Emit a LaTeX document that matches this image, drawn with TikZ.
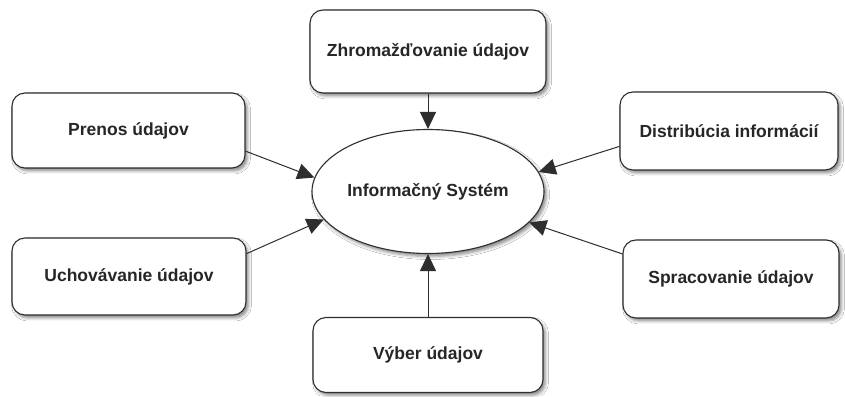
\documentclass[tikz,border=0pt]{standalone}
\usepackage{fontspec}
\setmainfont{Liberation Sans}
\usetikzlibrary{shapes.geometric,arrows.meta,shadows.blur}
\definecolor{edgegray}{HTML}{2E2E2E}
\tikzset{
  softshadow/.style={blur shadow={shadow xshift=2.5pt, shadow yshift=-3pt, shadow blur radius=3pt, shadow opacity=45}},
  labelfont/.style={font=\bfseries\fontsize{17.5}{20}\selectfont, text=black!85},
  infobox/.style={draw=edgegray, line width=1.1pt, fill=white, rounded corners=13pt,
    align=center, labelfont, softshadow},
  hub/.style={draw=edgegray, line width=1.1pt, fill=white, ellipse,
    minimum width=232pt, minimum height=124pt, inner sep=0pt, labelfont, softshadow},
  flow/.style={draw=edgegray, line width=1pt, -{Triangle[length=17pt,width=16pt]}}
}
\begin{document}
\begin{tikzpicture}[x=1pt,y=1pt]
  \useasboundingbox[fill=white] (0,0) rectangle (845,396);

  % central system
  \node[hub] (is) at (428,204.5) {Informačný Systém};

  % surrounding activities
  \node[infobox, minimum width=236pt, minimum height=83pt] (zber) at (428,344.5) {Zhromažďovanie údajov};
  \node[infobox, minimum width=233pt, minimum height=75pt] (prenos) at (128.5,265.5) {Prenos údajov};
  \node[infobox, minimum width=218pt, minimum height=78pt] (distr) at (729,265) {Distribúcia informácií};
  \node[infobox, minimum width=234pt, minimum height=77pt] (uchov) at (129,119.5) {Uchovávanie údajov};
  \node[infobox, minimum width=216pt, minimum height=78pt] (sprac) at (731,117) {Spracovanie údajov};
  \node[infobox, minimum width=230pt, minimum height=75pt] (vyber) at (428,41) {Výber údajov};

  % connectors into the system
  \draw[flow] (zber.south) -- (is.north);
  \draw[flow] (vyber.north) -- (is.south);
  \draw[flow] (prenos.-10) -- (is.173);
  \draw[flow] (uchov.11.4) -- (is.-165);
  \draw[flow] (distr.188.9) -- (is.10.6);
  \draw[flow] (sprac.167.5) -- (is.-17.8);
\end{tikzpicture}
\end{document}
